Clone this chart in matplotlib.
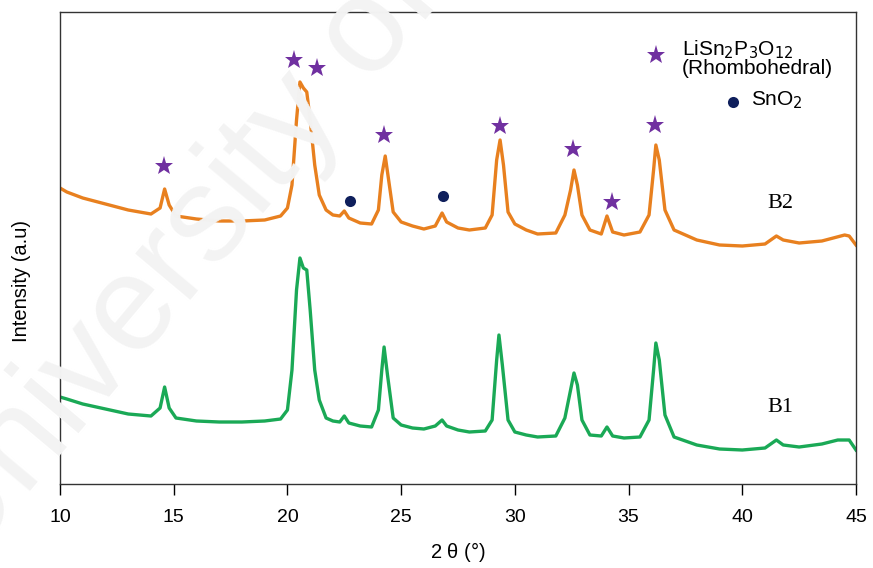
"""
XRD patterns of B1 / B2 with LiSn2P3O12 and SnO2 reflections marked.
"""

import numpy as np
import matplotlib.pyplot as plt

# --- data (intensity in arbitrary units) ---
two_theta_b2 = [10.0, 10.3, 11, 12, 13, 14, 14.4, 14.6, 14.8, 15.1, 16, 17, 18, 19, 19.7, 20.0,
                20.2, 20.4, 20.55, 20.7, 20.85, 21.0, 21.2, 21.4, 21.7, 22.0, 22.3, 22.5, 22.7,
                23.2, 23.7, 24.0, 24.15, 24.3, 24.45, 24.65, 25, 25.5, 26, 26.5, 26.8, 27.0, 27.5,
                28, 28.7, 29.0, 29.2, 29.35, 29.5, 29.7, 30.0, 30.5, 31, 31.8, 32.2, 32.45, 32.6,
                32.75, 32.95, 33.3, 33.8, 34.05, 34.3, 34.8, 35.5, 35.9, 36.1, 36.2, 36.35, 36.6,
                37.0, 37.5, 38, 39, 40, 41, 41.5, 41.8, 42.5, 43.5, 44.0, 44.5, 44.7, 45.0]
intensity_b2 = [296, 292, 286, 280, 274, 270, 276, 295, 279, 268, 265, 263, 263, 264, 268, 276,
                299, 364, 402, 396, 392, 364, 319, 289, 274, 269, 268, 273, 266,
                261, 260, 274, 309, 328, 304, 272, 262, 258, 255, 258, 271, 262, 256,
                254, 256, 269, 324, 344, 319, 272, 260, 254, 250, 251, 269, 294, 314,
                299, 269, 254, 250, 268, 252, 249, 252, 269, 314, 339, 324, 274,
                254, 249, 244, 239, 238, 240, 248, 244, 241, 243, 246, 249, 248, 239]

two_theta_b1 = [10.0, 10.3, 11, 12, 13, 14, 14.4, 14.6, 14.8, 15.1, 16, 17, 18, 19, 19.7, 20.0,
                20.2, 20.4, 20.55, 20.7, 20.85, 21.0, 21.2, 21.4, 21.7, 22.0, 22.3, 22.5, 22.7,
                23.2, 23.7, 24.0, 24.15, 24.25, 24.4, 24.65, 25, 25.5, 26, 26.5, 26.8, 27.0, 27.5,
                28, 28.7, 29.0, 29.2, 29.3, 29.45, 29.7, 30.0, 30.5, 31, 31.8, 32.2, 32.45, 32.6,
                32.75, 32.95, 33.3, 33.8, 34.05, 34.3, 34.8, 35.5, 35.9, 36.1, 36.2, 36.35, 36.6,
                37.0, 37.5, 38, 39, 40, 41, 41.5, 41.8, 42.5, 43.5, 44.2, 44.7, 45.0]
intensity_b1 = [87, 85, 80, 75, 70, 68, 76, 97, 76, 66, 63, 62, 62, 63, 65, 74,
                114, 194, 226, 216, 214, 174, 114, 84, 66, 63, 62, 68, 61,
                58, 57, 74, 114, 137, 109, 66, 59, 56, 55, 58, 64, 58, 54,
                52, 53, 64, 124, 149, 119, 64, 52, 49, 47, 48, 66, 94, 111,
                99, 64, 49, 48, 57, 48, 46, 47, 64, 114, 141, 124, 69,
                47, 43, 39, 35, 34, 36, 44, 39, 37, 40, 44, 44, 34]

# LiSn2P3O12 (rhombohedral) reflections and SnO2 reflections, marker positions
star_theta = [14.57, 20.29, 21.30, 24.25, 29.35, 32.56, 34.27, 36.17]
star_level = [318, 424, 416, 349, 358, 335, 282, 359]
dot_theta = [22.75, 26.85]
dot_level = [283, 288]

ORANGE = '#e8801f'
GREEN = '#1aa956'
PURPLE = '#7030a0'
NAVY = '#0f1f5c'

plt.rcParams['font.family'] = ['Liberation Sans', 'DejaVu Sans']

fig = plt.figure(figsize=(8.73, 5.68), dpi=100)

# faint watermark behind everything
fig.text(-0.02, -0.04, 'University of Malaya', fontsize=98, color='#f3f3f3',
         rotation=50, ha='left', va='bottom', zorder=0, rotation_mode='anchor')

ax = fig.add_axes([60 / 873, 84 / 568, 796 / 873, 472 / 568])
ax.set_facecolor('none')

ax.plot(two_theta_b2, intensity_b2, color=ORANGE, linewidth=2.4)
ax.plot(two_theta_b1, intensity_b1, color=GREEN, linewidth=2.4)

ax.plot(star_theta, star_level, linestyle='none', marker='*', markersize=14,
        color=PURPLE, markeredgewidth=0)
ax.plot(dot_theta, dot_level, linestyle='none', marker='o', markersize=8,
        color=NAVY, markeredgewidth=0)

# legend-like annotations
ax.plot([36.2], [429], marker='*', markersize=14, color=PURPLE, markeredgewidth=0)
ax.text(37.35, 434, r'LiSn$_2$P$_3$O$_{12}$', fontsize=15, va='center', ha='left')
ax.text(37.35, 415, '(Rhombohedral)', fontsize=15, va='center', ha='left')
ax.plot([39.6], [382], marker='o', markersize=8, color=NAVY, markeredgewidth=0)
ax.text(40.4, 384, r'SnO$_2$', fontsize=15, va='center', ha='left')

ax.text(41.1, 281, 'B2', fontsize=16, family='Liberation Serif', va='center', ha='left')
ax.text(41.1, 76, 'B1', fontsize=16, family='Liberation Serif', va='center', ha='left')

ax.set_xlim(10, 45)
ax.set_ylim(0, 472)
ax.set_xticks([10, 15, 20, 25, 30, 35, 40, 45])
ax.set_yticks([])
ax.tick_params(axis='x', direction='out', length=8, width=1, labelsize=14, pad=10)
for spine in ax.spines.values():
    spine.set_color('#333333')
    spine.set_linewidth(1.0)

ax.set_xlabel(r'2 $\mathregular{\theta}$ (°)', fontsize=14.5, labelpad=10)
ax.set_ylabel('Intensity (a.u)', fontsize=14.5)
ax.yaxis.set_label_coords(-0.036, 0.43)

plt.savefig('out.png', dpi=100)
